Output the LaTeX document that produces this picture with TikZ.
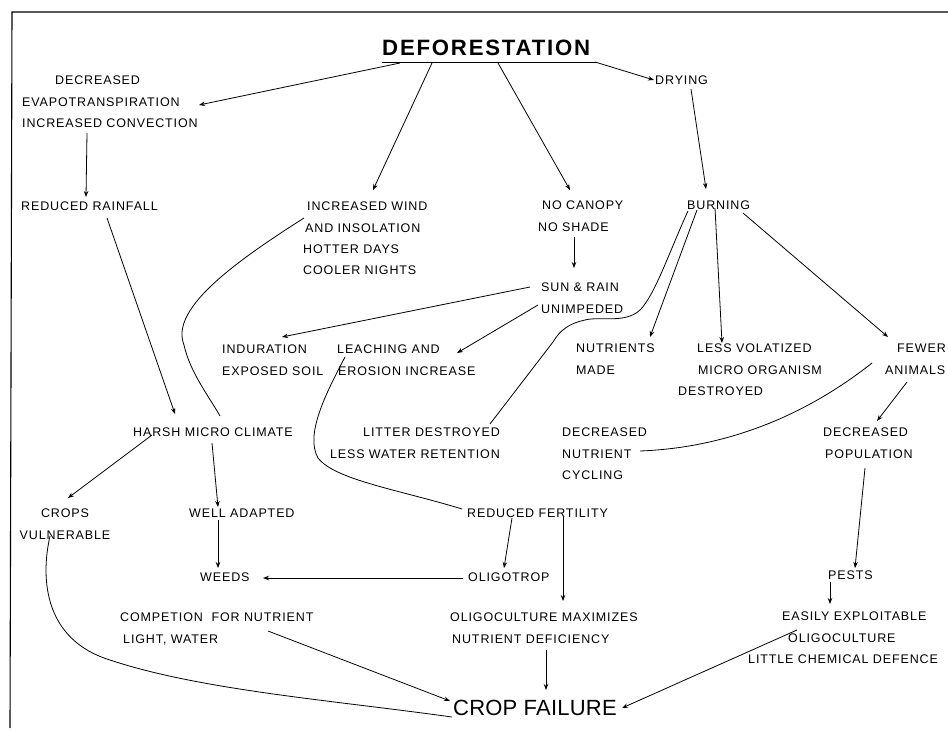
\documentclass[tikz,border=0pt]{standalone}
\usepackage{fontspec}
\setmainfont{Liberation Sans}
\newfontfamily\smallf{Liberation Sans}[LetterSpace=7]
\newfontfamily\titlef{Liberation Sans}[LetterSpace=8]
\newfontfamily\failf{Liberation Sans}[LetterSpace=1]
\usetikzlibrary{arrows.meta}
\begin{document}
\begin{tikzpicture}[x=1pt,y=-1pt,
  lbl/.style={inner sep=0pt, anchor=north west, align=left, font=\smallf\fontsize{12.5}{21.3}\selectfont},
  arr/.style={-{Stealth[length=6pt,width=4.5pt]}, line width=0.8pt},
  ln/.style={line width=0.8pt}]
\useasboundingbox (0,0) rectangle (948,731);
% frame
\draw[line width=1.1pt] (948,12) -- (12,12) -- (10,728);
% nodes
\node[inner sep=0pt, anchor=north west, font=\titlef\bfseries\fontsize{22.2}{26}\selectfont] (title) at (382,40) {DEFORESTATION};
\node[lbl] (evap) at (22,76) {\hspace*{33pt}DECREASED\\EVAPOTRANSPIRATION\\INCREASED CONVECTION};
\node[lbl] (rain) at (21,202) {REDUCED RAINFALL};
\node[lbl] (wind) at (303,202) {\hspace*{4pt}INCREASED WIND\\\hspace*{2pt}AND INSOLATION\\HOTTER DAYS\\COOLER NIGHTS};
\node[lbl] (canopy) at (538,201) {\hspace*{4pt}NO CANOPY\\NO SHADE};
\node[lbl] (drying) at (655,76) {DRYING};
\node[lbl] (burning) at (687,201) {BURNING};
\node[lbl] (sun) at (541,283) {SUN \& RAIN\\UNIMPEDED};
\node[lbl] (indur) at (222,345) {INDURATION\\EXPOSED SOIL};
\node[lbl] (leach) at (337,345) {LEACHING AND\\\hspace*{1pt}EROSION INCREASE};
\node[lbl] (nutr) at (576,344) {NUTRIENTS\\MADE};
\node[lbl] (volat) at (678,344) {\hspace*{19pt}LESS VOLATIZED\\\hspace*{20pt}MICRO ORGANISM\\DESTROYED};
\node[lbl] (fewer) at (885,344) {\hspace*{12pt}FEWER\\ANIMALS};
\node[lbl] (harsh) at (133,428) {HARSH MICRO CLIMATE};
\node[lbl, anchor=north east, align=right] (litter) at (500,428) {LITTER DESTROYED\\LESS WATER RETENTION};
\node[lbl] (cycling) at (562,428) {DECREASED\\NUTRIENT\\CYCLING};
\node[lbl] (pop) at (823,428) {DECREASED\\\hspace*{2pt}POPULATION};
\node[lbl, anchor=north, align=center] (crops) at (65,509) {CROPS\\VULNERABLE};
\node[lbl] (adapted) at (189,509) {WELL ADAPTED};
\node[lbl] (fert) at (467,509) {REDUCED FERTILITY};
\node[lbl] (weeds) at (200,573) {WEEDS};
\node[lbl] (oligotrop) at (468,573) {OLIGOTROP};
\node[lbl] (pests) at (828,571) {PESTS};
\node[lbl] (compet) at (120,613) {COMPETION\ \ FOR NUTRIENT\\\hspace*{3pt}LIGHT, WATER};
\node[lbl] (maxim) at (450,613) {OLIGOCULTURE MAXIMIZES\\\hspace*{2pt}NUTRIENT DEFICIENCY};
\node[lbl] (easily) at (748,612) {\hspace*{34pt}EASILY EXPLOITABLE\\\hspace*{40pt}OLIGOCULTURE\\LITTLE CHEMICAL DEFENCE};
\node[inner sep=0pt, anchor=north west, font=\failf\fontsize{22}{26}\selectfont] (fail) at (453,700) {CROP FAILURE};
% underline
\draw[line width=1pt] ([shift={(0,22)}]title.north west) -- ([shift={(214,22)}]title.north west);
% connectors
\draw[arr] ([shift={(18,23)}]title.north west) -- ([shift={(177,29)}]evap.north west);
\draw[arr] ([shift={(50,23)}]title.north west) -- ([shift={(70,-12)}]wind.north west);
\draw[arr] ([shift={(116,23)}]title.north west) -- ([shift={(32,-11)}]canopy.north west);
\draw[arr] ([shift={(213,22)}]title.north west) -- ([shift={(-1,4)}]drying.north west);
\draw[arr] ([shift={(36,13)}]drying.north west) -- ([shift={(19,-12)}]burning.north west);
\draw[arr] ([shift={(65,57)}]evap.north west) -- ([shift={(65,-5)}]rain.north west);
\draw[arr] ([shift={(86,16)}]rain.north west) -- ([shift={(42,-14)}]harsh.north west);
\draw[ln] ([shift={(1,16)}]wind.north west) .. controls (230,265) and (170,310) .. (184,345) .. controls (190,372) and (208,395) .. ([shift={(87,-12)}]harsh.north west);
\draw[arr] ([shift={(36,36)}]canopy.north west) -- ([shift={(33,-15)}]sun.north west);
\draw[arr] ([shift={(-11,4)}]sun.north west) -- ([shift={(60,-8)}]indur.north west);
\draw[arr] ([shift={(-3,22)}]sun.north west) -- ([shift={(120,8)}]leach.north west);
\draw[ln] ([shift={(1,10)}]burning.north west) .. controls (670,250) and (655,295) .. (640,310) .. controls (625,324) and (600,316) .. (585,320) .. controls (570,323) and (560,330) .. (553,342) -- ([shift={(-10,-4)}]litter.north east);
\draw[arr] ([shift={(10,9)}]burning.north west) -- ([shift={(74,-7)}]nutr.north west);
\draw[arr] ([shift={(28,7)}]burning.north west) -- ([shift={(44,-1)}]volat.north west);
\draw[arr] ([shift={(56,12)}]burning.north west) -- ([shift={(3,-7)}]fewer.north west);
\draw[ln] ([shift={(-13,19)}]fewer.north west) .. controls (800,420) and (720,448) .. ([shift={(78,23)}]cycling.north west);
\draw[arr] ([shift={(22,38)}]fewer.north west) -- ([shift={(54,-7)}]pop.north west);
\draw[arr] ([shift={(42,40)}]pop.north west) -- ([shift={(27,-3)}]pests.north west);
\draw[arr] ([shift={(2,11)}]pests.north west) -- ([shift={(82,-8)}]easily.north west);
\draw[arr] ([shift={(49,18)}]easily.north west) -- ([shift={(169,8)}]fail.north west);
\draw[arr] ([shift={(96,37)}]maxim.north west) -- ([shift={(93,-10)}]fail.north west);
\draw[arr] ([shift={(96,8)}]fert.north west) -- ([shift={(113,-12)}]maxim.north west);
\draw[arr] ([shift={(45,9)}]fert.north west) -- ([shift={(36,-5)}]oligotrop.north west);
\draw[arr] ([shift={(-5,5)}]oligotrop.north west) -- ([shift={(63,5)}]weeds.north west);
\draw[arr] ([shift={(29,11)}]adapted.north west) -- ([shift={(18,-5)}]weeds.north west);
\draw[arr] ([shift={(79,15)}]harsh.north west) -- ([shift={(29,-2)}]adapted.north west);
\draw[arr] ([shift={(19,7)}]harsh.north west) -- ([shift={(3,-11)}]crops.north);
\draw[ln] ([shift={(-15,27)}]crops.north) .. controls (40,580) and (45,640) .. (110,660) .. controls (200,690) and (330,700) .. ([shift={(-1,17)}]fail.north west);
\draw[arr] ([shift={(148,18)}]compet.north west) -- ([shift={(-3,1)}]fail.north west);
\draw[ln] ([shift={(8,12)}]leach.north west) .. controls (325,395) and (305,435) .. (318,458) .. controls (335,480) and (400,490) .. ([shift={(-5,0)}]fert.north west);
\end{tikzpicture}
\end{document}
